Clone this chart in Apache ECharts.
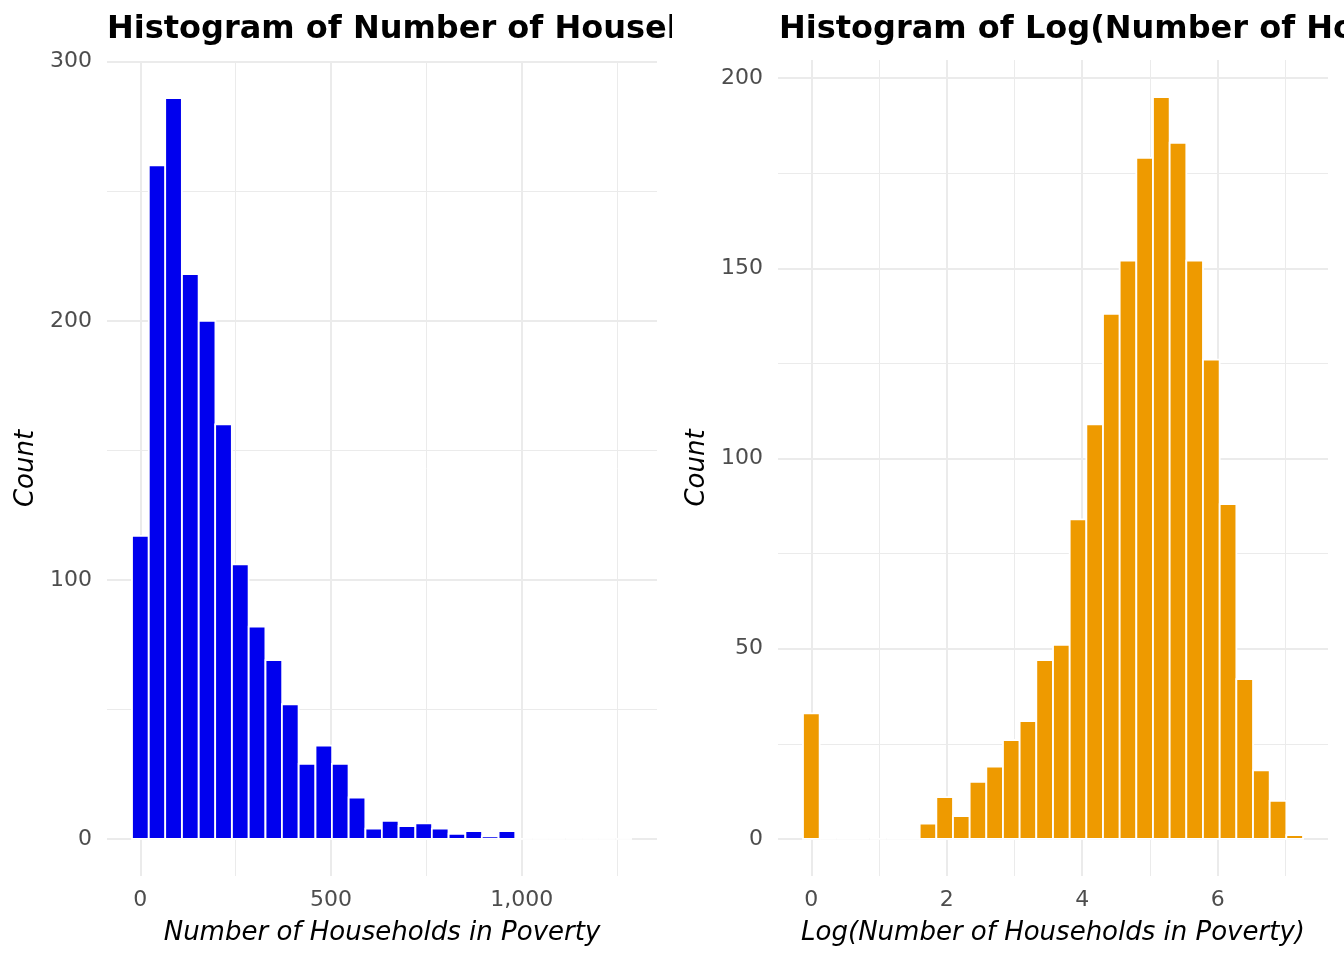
<!DOCTYPE html>
<html>
<head>
<meta charset="utf-8">
<title>Histograms of households in poverty</title>
<script src="https://cdn.jsdelivr.net/npm/echarts@6/dist/echarts.min.js"></script>
<style>
  html, body { margin: 0; padding: 0; background: #fff; }
  #wrap { width: 1344px; height: 960px; display: flex; }
  .panel { width: 672px; height: 960px; overflow: hidden; }
</style>
</head>
<body>
<div id="wrap">
  <div id="left" class="panel"></div>
  <div id="right" class="panel"></div>
</div>
<script>
// bin centres and counts
var rawBins = [0, 44, 87, 131, 175, 218, 262, 306, 350, 393, 437, 481, 524, 568, 612,
  655, 699, 743, 786, 830, 874, 917, 961, 1005, 1049, 1092, 1136, 1180, 1223, 1267];
var rawCounts = [117, 260, 286, 218, 200, 160, 106, 82, 69, 52, 29, 36, 29, 16, 4,
  7, 5, 6, 4, 2, 3, 1, 3, 0, 0, 0, 0, 0, 0, 0];

var logBins = [0, 0.246, 0.492, 0.738, 0.984, 1.231, 1.477, 1.723, 1.969, 2.215,
  2.461, 2.707, 2.953, 3.199, 3.445, 3.692, 3.938, 4.184, 4.430, 4.676,
  4.922, 5.168, 5.414, 5.660, 5.906, 6.153, 6.399, 6.645, 6.891, 7.137];
var logCounts = [33, 0, 0, 0, 0, 0, 0, 4, 11, 6, 15, 19, 26, 31, 47,
  51, 84, 109, 138, 152, 179, 195, 183, 152, 126, 88, 42, 18, 10, 1];

var rawXMajor = [0, 500, 1000];
var rawXMinor = [250, 750, 1250];
var rawYMajor = [0, 100, 200, 300];
var rawYMinor = [50, 150, 250];

var logXMajor = [0, 2, 4, 6];
var logXMinor = [1, 3, 5, 7];
var logYMajor = [0, 50, 100, 150, 200];
var logYMinor = [25, 75, 125, 175];

var FONT = 'DejaVu Sans';
var GRID_COLOR = '#ebebeb';

function fmtThousands(v) {
  return String(Math.round(v)).replace(/\B(?=(\d{3})+(?!\d))/g, ',');
}

function majorAxis(range, ticks, isX, name) {
  return {
    type: 'value',
    min: range[0],
    max: range[1],
    name: name,
    nameLocation: 'middle',
    nameGap: isX ? 44 : 65,
    nameTextStyle: { fontFamily: FONT, fontSize: 26, fontStyle: 'italic', color: '#000' },
    axisLine: { show: false },
    axisTick: { show: false, customValues: ticks },
    axisLabel: {
      customValues: ticks,
      margin: isX ? 13 : 15,
      fontFamily: FONT,
      fontSize: 22,
      color: '#4d4d4d',
      formatter: fmtThousands
    },
    splitLine: { show: true, lineStyle: { color: GRID_COLOR, width: 2 } }
  };
}

function minorAxis(range, ticks) {
  return {
    type: 'value',
    min: range[0],
    max: range[1],
    axisLine: { show: false },
    axisTick: { show: false, customValues: ticks },
    axisLabel: { show: false, customValues: ticks },
    splitLine: { show: true, lineStyle: { color: GRID_COLOR, width: 1 } }
  };
}

function histSeries(bins, counts, width, color) {
  var data = bins.map(function (b, i) { return [b, counts[i]]; });
  return {
    type: 'custom',
    xAxisIndex: 0,
    yAxisIndex: 0,
    data: data,
    renderItem: function (params, api) {
      var x = api.value(0);
      var y = api.value(1);
      var p0 = api.coord([x - width / 2, y]);
      var p1 = api.coord([x + width / 2, 0]);
      if (y === 0) {
        // empty bins still get their white outline, like ggplot
        return {
          type: 'line',
          shape: { x1: p0[0], y1: p1[1], x2: p1[0], y2: p1[1] },
          style: { stroke: '#ffffff', lineWidth: 1.8 }
        };
      }
      return {
        type: 'rect',
        shape: { x: p0[0], y: p0[1], width: p1[0] - p0[0], height: p1[1] - p0[1] },
        style: { fill: color, stroke: '#ffffff', lineWidth: 1.8 }
      };
    },
    z: 5
  };
}

function makeOption(cfg) {
  return {
    animation: false,
    backgroundColor: '#ffffff',
    title: {
      text: cfg.title,
      left: 107,
      top: 14,
      padding: 0,
      textStyle: { fontFamily: FONT, fontSize: 32, fontWeight: 'bold', color: '#000' }
    },
    grid: { left: cfg.grid[0], right: cfg.grid[1], top: cfg.grid[2], bottom: cfg.grid[3] },
    xAxis: [
      majorAxis(cfg.xRange, cfg.xMajor, true, cfg.xName),
      minorAxis(cfg.xRange, cfg.xMinor)
    ],
    yAxis: [
      majorAxis(cfg.yRange, cfg.yMajor, false, 'Count'),
      minorAxis(cfg.yRange, cfg.yMinor)
    ],
    series: [histSeries(cfg.bins, cfg.counts, cfg.binWidth, cfg.color)]
  };
}

var leftChart = echarts.init(document.getElementById('left'));
leftChart.setOption(makeOption({
  title: 'Histogram of Number of Households in Poverty',
  grid: [107, 15, 61, 84],
  xRange: [-87.4, 1354.4],
  yRange: [-14.3, 300.3],
  xMajor: rawXMajor, xMinor: rawXMinor,
  yMajor: rawYMajor, yMinor: rawYMinor,
  xName: 'Number of Households in Poverty',
  bins: rawBins, counts: rawCounts, binWidth: 43.69,
  color: '#0000ee'
}));

var rightChart = echarts.init(document.getElementById('right'));
rightChart.setOption(makeOption({
  title: 'Histogram of Log(Number of Households in Poverty)',
  grid: [106, 16, 60, 84],
  xRange: [-0.492, 7.629],
  yRange: [-9.75, 204.75],
  xMajor: logXMajor, xMinor: logXMinor,
  yMajor: logYMajor, yMinor: logYMinor,
  xName: 'Log(Number of Households in Poverty)',
  bins: logBins, counts: logCounts, binWidth: 0.2461,
  color: '#ee9a00'
}));
</script>
</body>
</html>
